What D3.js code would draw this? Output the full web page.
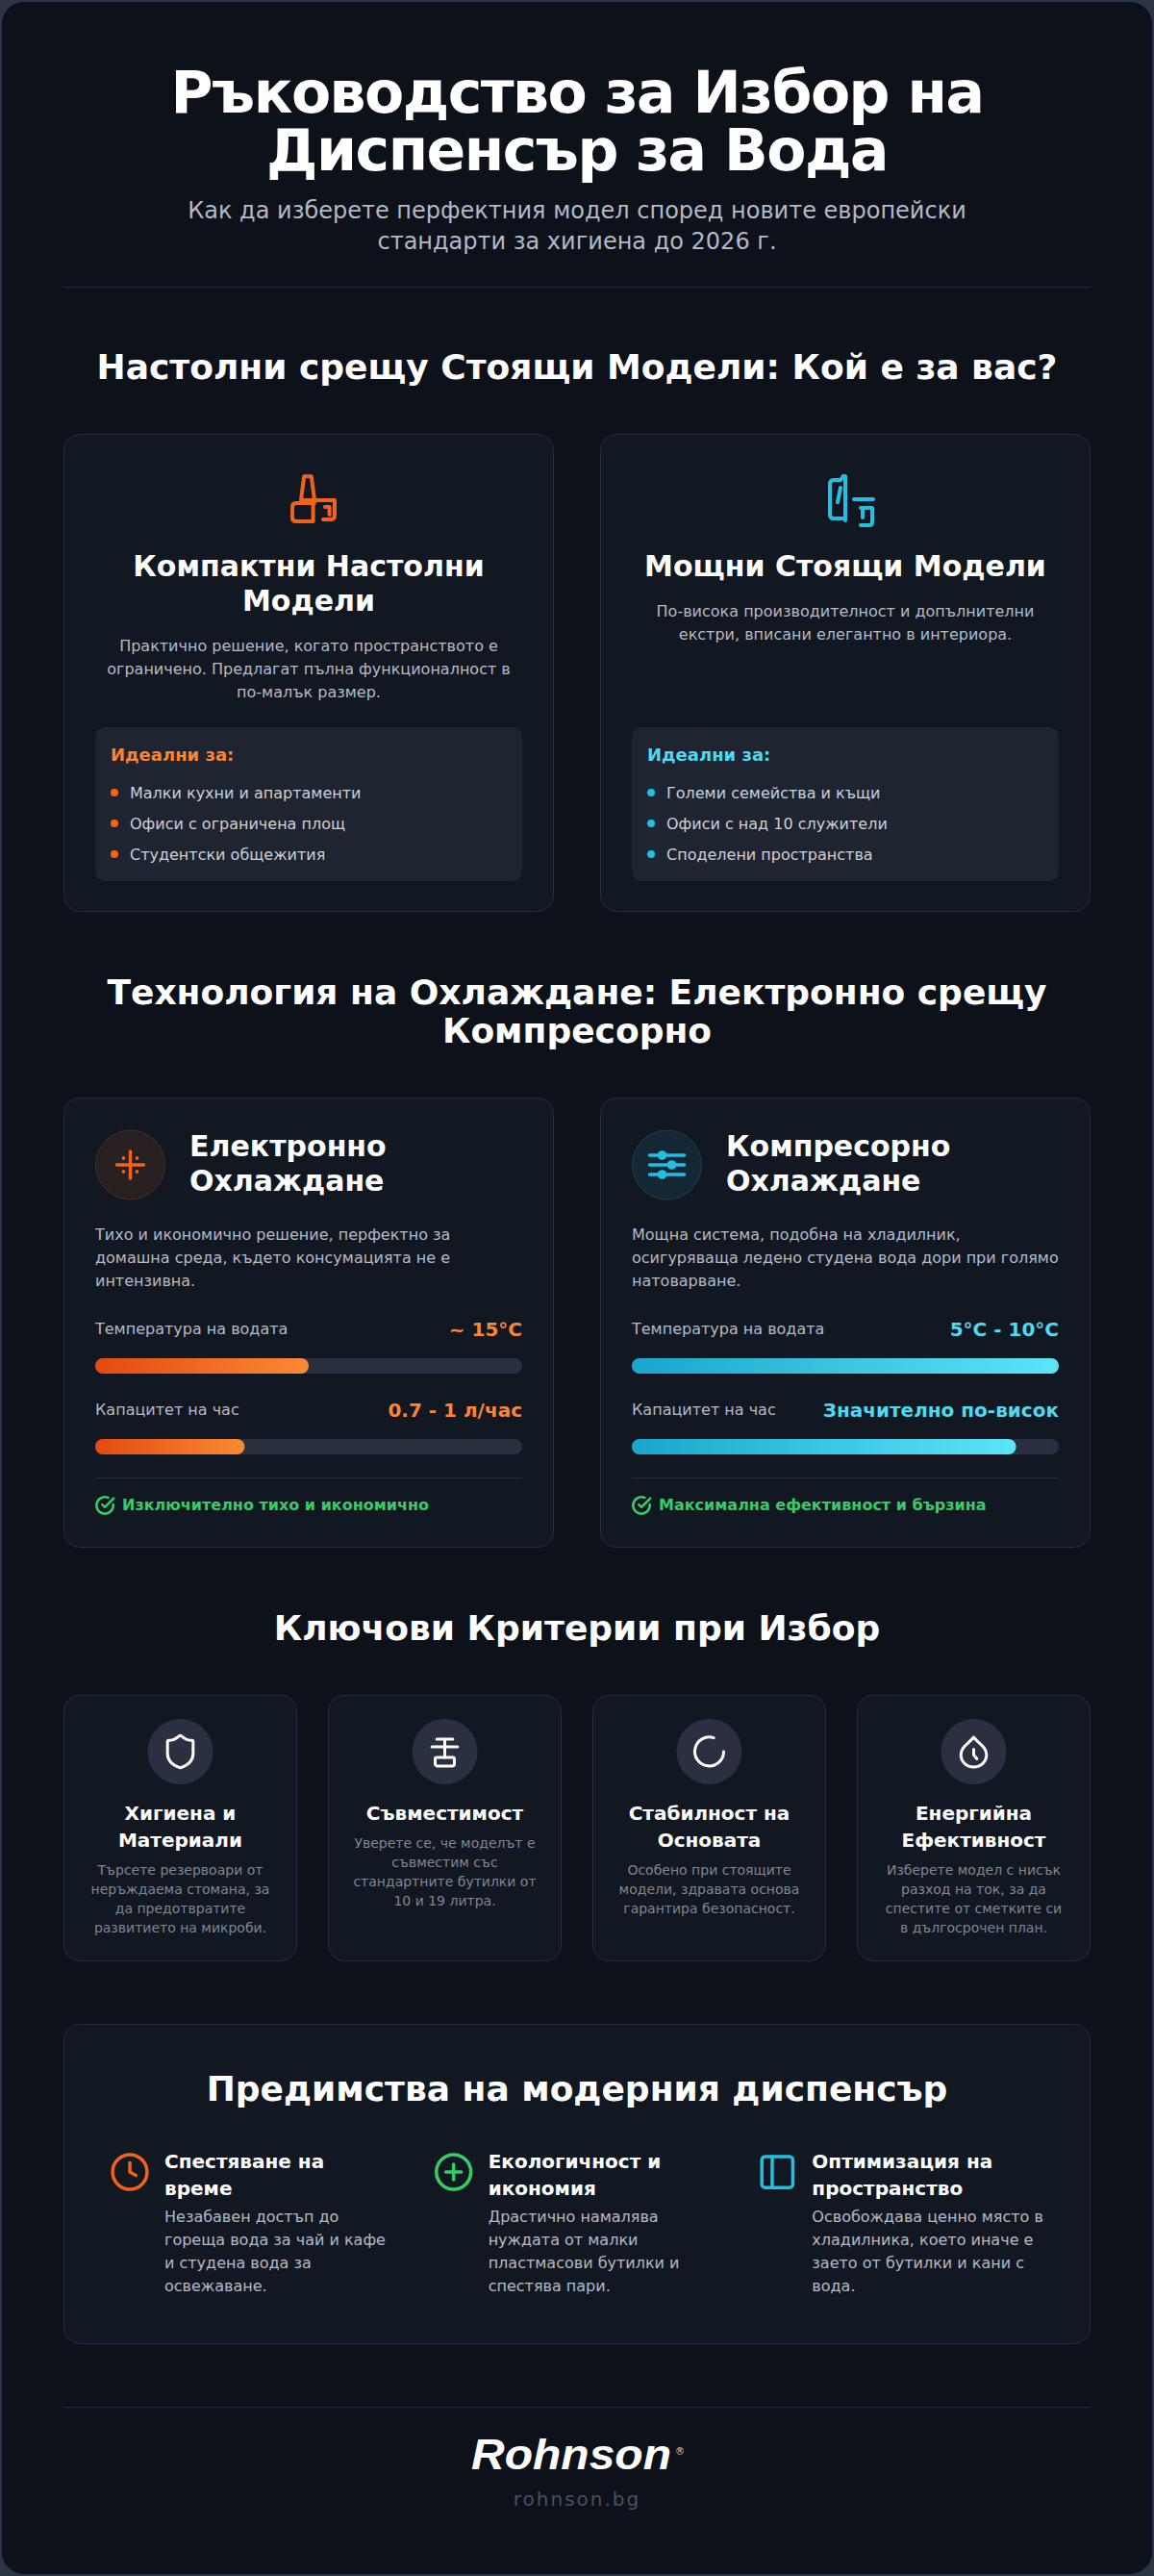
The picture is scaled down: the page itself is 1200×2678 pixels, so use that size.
<!DOCTYPE html>
<html>
<head>
<meta charset="utf-8">
<title>Ръководство за Избор на Диспенсър за Вода</title>
<script src="https://cdn.jsdelivr.net/npm/d3@7"></script>
<style>
	html, body { margin: 0; padding: 0; background: #2b3545; }
	svg { display: block; }
	text { font-family: "DejaVu Sans", sans-serif; }
</style>
</head>
<body>
<div id="chart"></div>
<script>
"use strict";

// Page texts
var titleLines = ["Ръководство за Избор на", "Диспенсър за Вода"];
var subtitleLines = ["Как да изберете перфектния модел според новите европейски", "стандарти за хигиена до 2026 г."];
var sectionOne = ["Настолни срещу Стоящи Модели: Кой е за вас?"];
var sectionTwo = ["Технология на Охлаждане: Електронно срещу", "Компресорно"];
var sectionThree = ["Ключови Критерии при Избор"];
var sectionFour = ["Предимства на модерния диспенсър"];

// Model cards
var modelTitles = [["Компактни Настолни", "Модели"], ["Мощни Стоящи Модели"]];
var modelTexts = [
	["Практично решение, когато пространството е", "ограничено. Предлагат пълна функционалност в", "по-малък размер."],
	["По-висока производителност и допълнителни", "екстри, вписани елегантно в интериора."]
];
var idealLabel = "Идеални за:";
var idealLists = [
	["Малки кухни и апартаменти", "Офиси с ограничена площ", "Студентски общежития"],
	["Големи семейства и къщи", "Офиси с над 10 служители", "Споделени пространства"]
];

// Cooling cards
var coolingTitles = [["Електронно", "Охлаждане"], ["Компресорно", "Охлаждане"]];
var coolingTexts = [
	["Тихо и икономично решение, перфектно за", "домашна среда, където консумацията не е", "интензивна."],
	["Мощна система, подобна на хладилник,", "осигуряваща ледено студена вода дори при голямо", "натоварване."]
];
var barLabels = ["Температура на водата", "Капацитет на час"];
var barValueTexts = [["~ 15°C", "0.7 - 1 л/час"], ["5°C - 10°C", "Значително по-висок"]];
var barValues = [[50, 35], [100, 90]];
var coolingNotes = ["Изключително тихо и икономично", "Максимална ефективност и бързина"];

// Criteria cards
var criteriaTitles = [["Хигиена и", "Материали"], ["Съвместимост"], ["Стабилност на", "Основата"], ["Енергийна", "Ефективност"]];
var criteriaTexts = [
	["Търсете резервоари от", "неръждаема стомана, за", "да предотвратите", "развитието на микроби."],
	["Уверете се, че моделът е", "съвместим със", "стандартните бутилки от", "10 и 19 литра."],
	["Особено при стоящите", "модели, здравата основа", "гарантира безопасност."],
	["Изберете модел с нисък", "разход на ток, за да", "спестите от сметките си", "в дългосрочен план."]
];

// Benefits
var benefitTitles = [["Спестяване на", "време"], ["Екологичност и", "икономия"], ["Оптимизация на", "пространство"]];
var benefitTexts = [
	["Незабавен достъп до", "гореща вода за чай и кафе", "и студена вода за", "освежаване."],
	["Драстично намалява", "нуждата от малки", "пластмасови бутилки и", "спестява пари."],
	["Освобождава ценно място в", "хладилника, което иначе е", "заето от бутилки и кани с", "вода."]
];

var colors = {
	page: "#0d111a",
	border: "#252d3b",
	card: "#121821",
	box: "#1e2430",
	track: "#2a3040",
	white: "#ffffff",
	sub: "#b4bac5",
	body: "#ccd0d7",
	muted: "#7f8692",
	orange: "#f0621d",
	orangeText: "#fb8435",
	cyan: "#22bfe0",
	cyanText: "#50d9f0",
	green: "#38cc66"
};

var W = 1200, H = 2678;

var svg = d3.select("#chart").append("svg")
	.attr("width", W)
	.attr("height", H)
	.attr("viewBox", "0 0 " + W + " " + H);

var defs = svg.append("defs");

function gradient(id, from, to) {
	var g = defs.append("linearGradient").attr("id", id);
	g.append("stop").attr("offset", "0%").attr("stop-color", from);
	g.append("stop").attr("offset", "100%").attr("stop-color", to);
}
gradient("barOrange", "#e34a10", "#fb8a35");
gradient("barCyan", "#19a6ca", "#5ce5f8");

function text(parent, x, y, str, size, weight, fill, anchor) {
	return parent.append("text")
		.attr("x", x)
		.attr("y", y)
		.attr("font-size", size)
		.attr("font-weight", weight)
		.attr("fill", fill)
		.attr("text-anchor", anchor || "start")
		.text(str);
}

function lines(parent, x, y, gap, arr, size, weight, fill, anchor) {
	arr.forEach(function(d, i) {
		text(parent, x, y + i * gap, d, size, weight, fill, anchor);
	});
}

function card(parent, x, y, w, h) {
	parent.append("rect")
		.attr("x", x + 0.5)
		.attr("y", y + 0.5)
		.attr("width", w - 1)
		.attr("height", h - 1)
		.attr("rx", 16)
		.attr("fill", colors.card)
		.attr("stroke", colors.border);
}

function divider(parent, x1, x2, y) {
	parent.append("line")
		.attr("x1", x1).attr("x2", x2)
		.attr("y1", y + 0.5).attr("y2", y + 0.5)
		.attr("stroke", colors.border);
}

// Stroked icon, paths in a 24 unit box
function icon(parent, cx, cy, size, stroke, sw, shapes) {
	var k = size / 24;
	var g = parent.append("g")
		.attr("transform", "translate(" + (cx - size / 2) + "," + (cy - size / 2) + ") scale(" + k + ")")
		.attr("fill", "none")
		.attr("stroke", stroke)
		.attr("stroke-width", sw / k)
		.attr("stroke-linecap", "round")
		.attr("stroke-linejoin", "round");
	shapes.forEach(function(s) {
		g.append("path").attr("d", s);
	});
	return g;
}

var circle24 = "M22 12a10 10 0 1 1-20 0a10 10 0 1 1 20 0";

// Frame
svg.append("rect")
	.attr("x", 1).attr("y", 1)
	.attr("width", W - 2).attr("height", H - 2)
	.attr("rx", 24)
	.attr("fill", colors.page)
	.attr("stroke", "#2b3545")
	.attr("stroke-width", 2);

// Header
titleLines.forEach(function(d, i) {
	text(svg, 600, 117 + i * 60, d, 60, 700, colors.white, "middle")
		.attr("letter-spacing", -1.5);
});
lines(svg, 600, 227, 32, subtitleLines, 24, 400, colors.sub, "middle");
divider(svg, 66, 1134, 298);

// Desk and floor models
lines(svg, 600, 394, 40, sectionOne, 36, 700, colors.white, "middle");

var colX = d3.scaleBand().domain([0, 1]).range([66, 1134]).paddingInner(48 / 510 / (1 + 48 / 510));

var modelIcons = [
	["M9.6 -0.4 H13.4 L15 12 H8 Z", "M15.5 12 H25.5 V20 Q25.5 22 23.5 22 H19.5", "M14 23 H5.5 Q3.5 23 3.5 21 V15.5 Q3.5 13.5 5.5 13.5 H15", "M14.3 13.5 V23", "M20.5 15.5 H22.8 V19.5"],
	["M9.5 1.5 H6 Q4 1.5 4 3.5 V19.5 Q4 21.5 6 21.5 H11", "M11 -0.5 H12 V22.5", "M11 -0.5 L9.5 1.5", "M9.5 5.5 L8 13", "M16.5 11.5 H26.5", "M20 16 H26 V23.5 Q26 25 24.5 25 H20", "M21 16.5 V21"]
];
var accent = [colors.orange, colors.cyan];
var accentText = [colors.orangeText, colors.cyanText];

modelTitles.forEach(function(t, i) {
	var x = colX(i), w = colX.bandwidth(), mid = x + w / 2, g = svg.append("g");
	card(g, x, 451, w, 497);
	icon(g, mid, 520, 48, accent[i], 4, modelIcons[i]);
	lines(g, mid, 599, 36, t, 30, 700, colors.white, "middle");
	lines(g, mid, t.length > 1 ? 677 : 641, 24, modelTexts[i], 16, 400, colors.sub, "middle");

	g.append("rect")
		.attr("x", x + 33).attr("y", 756)
		.attr("width", w - 66).attr("height", 160)
		.attr("rx", 10)
		.attr("fill", colors.box);
	text(g, x + 49, 791, idealLabel, 18, 700, accentText[i]);
	idealLists[i].forEach(function(d, j) {
		var y = 824 + j * 32;
		g.append("circle").attr("cx", x + 53).attr("cy", y).attr("r", 4).attr("fill", accent[i]);
		text(g, x + 69, y + 5.5, d, 16, 400, colors.body);
	});
});

// Cooling technology
lines(svg, 600, 1044, 40, sectionTwo, 36, 700, colors.white, "middle");

var barX = d3.scaleLinear().domain([0, 100]).range([0, 444]);
var barFill = ["url(#barOrange)", "url(#barCyan)"];
var iconTint = [["rgba(240,98,29,0.1)", "rgba(240,98,29,0.22)"], ["rgba(34,191,224,0.1)", "rgba(34,191,224,0.22)"]];

coolingTitles.forEach(function(t, i) {
	var x = colX(i), w = colX.bandwidth(), inner = x + 33, g = svg.append("g");
	card(g, x, 1141, w, 468);

	var cx = inner + 36.5, cy = 1211;
	g.append("circle").attr("cx", cx).attr("cy", cy).attr("r", 36)
		.attr("fill", iconTint[i][0]).attr("stroke", iconTint[i][1]);
	var ig = g.append("g").attr("transform", "translate(" + cx + "," + cy + ")");
	if (i === 0) {
		ig.append("path").attr("d", "M0 -14V14M-14 0H14")
			.attr("stroke", accent[0]).attr("stroke-width", 3.4).attr("stroke-linecap", "round");
		[[-7, -7], [7, -7], [-7, 7], [7, 7]].forEach(function(d) {
			ig.append("circle").attr("cx", d[0]).attr("cy", d[1]).attr("r", 1.9).attr("fill", accent[0]);
		});
	} else {
		[[-10, -5], [0, 5], [10, -5]].forEach(function(d) {
			ig.append("line").attr("x1", -18).attr("x2", 18).attr("y1", d[0]).attr("y2", d[0])
				.attr("stroke", accent[1]).attr("stroke-width", 3.4).attr("stroke-linecap", "round");
			ig.append("circle").attr("cx", d[1]).attr("cy", d[0]).attr("r", 4.8).attr("fill", accent[1]);
		});
	}

	lines(g, inner + 98, 1202, 36, t, 30, 700, colors.white);
	lines(g, inner, 1289, 24, coolingTexts[i], 16, 400, colors.sub);

	barLabels.forEach(function(label, j) {
		var y = 1387 + j * 84;
		text(g, inner, y, label, 16, 400, colors.sub);
		text(g, inner + 444, y + 2, barValueTexts[i][j], 20, 700, accentText[i], "end");
		g.append("rect")
			.attr("x", inner).attr("y", y + 25)
			.attr("width", barX(100)).attr("height", 16)
			.attr("rx", 8)
			.attr("fill", colors.track);
		g.append("rect")
			.attr("x", inner).attr("y", y + 25)
			.attr("width", barX(barValues[i][j])).attr("height", 16)
			.attr("rx", 8)
			.attr("fill", barFill[i]);
	});

	divider(g, inner, inner + 444, 1536);
	icon(g, inner + 10, 1565, 22, colors.green, 2.5, ["M21.5 11v1a9.5 9.5 0 1 1-5.6-8.7", "M22 4 L12 14 L9 11"]);
	text(g, inner + 28, 1570, coolingNotes[i], 16, 700, colors.green);
});

// Key criteria
lines(svg, 600, 1705, 40, sectionThree, 36, 700, colors.white, "middle");

var critX = d3.scaleBand().domain([0, 1, 2, 3]).range([66, 1134]).paddingInner(32 / 275);

var criteriaIcons = [
	["M20 13c0 5-3.5 7.5-7.66 8.95a1 1 0 0 1-.67 0C7.5 20.5 4 18 4 13V6a1 1 0 0 1 1-1c2 0 4.5-1.2 6.24-2.72a1.17 1.17 0 0 1 1.52 0C14.51 3.81 17 5 19 5a1 1 0 0 1 1 1z"],
	["M7 4.2 H17", "M12 4.2 V15.6", "M4 9 H20", "M7 15.6 H17 A1 1 0 0 1 18 16.6 V19.5 A1.5 1.5 0 0 1 16.5 21 H7.5 A1.5 1.5 0 0 1 6 19.5 V16.6 A1 1 0 0 1 7 15.6"],
	["M21 12a9 9 0 1 1-6.2-8.6"],
	["M12 3 C15 7 20 9 20 14 A8 7.6 0 0 1 4 14 C4 9 9 7 12 3 Z", "M12 10.5 V14 L14 16.5"]
];

criteriaTitles.forEach(function(t, i) {
	var x = critX(i), w = critX.bandwidth(), mid = x + w / 2, g = svg.append("g");
	card(g, x, 1762, w, 277);
	g.append("circle").attr("cx", mid).attr("cy", 1821).attr("r", 34).attr("fill", colors.track);
	icon(g, mid, 1821, 40, colors.white, 3, criteriaIcons[i]);
	lines(g, mid, 1892, 28, t, 20, 700, colors.white, "middle");
	lines(g, mid, 1892 + (t.length - 1) * 28 + 29, 20, criteriaTexts[i], 14, 400, colors.muted, "middle");
});

// Benefits
card(svg, 66, 2104, 1068, 333);
lines(svg, 600, 2184, 40, sectionFour, 36, 700, colors.white, "middle");

var benefitX = d3.scaleBand().domain([0, 1, 2]).range([171, 1181]);
var benefitColor = [colors.orange, colors.green, colors.cyan];
var benefitIcons = [
	[circle24, "M12 6.5 V12 L15.5 14"],
	[circle24, "M12 7.5 V16.5", "M7.5 12 H16.5"],
	["M5 3 H19 A2 2 0 0 1 21 5 V19 A2 2 0 0 1 19 21 H5 A2 2 0 0 1 3 19 V5 A2 2 0 0 1 5 3", "M9 3 V21"]
];

benefitTitles.forEach(function(t, i) {
	var x = benefitX(i), g = svg.append("g");
	icon(g, x - 36, 2258, 43, benefitColor[i], 3.5, benefitIcons[i]);
	lines(g, x, 2254, 28, t, 20, 700, colors.white);
	lines(g, x, 2310, 24, benefitTexts[i], 16, 400, colors.sub);
});

// Footer
divider(svg, 66, 1134, 2502);
text(svg, 490, 2567, "Rohnson", 45, 700, colors.white)
	.attr("font-style", "italic")
	.attr("textLength", 208)
	.attr("lengthAdjust", "spacingAndGlyphs")
	.style("font-family", "'Liberation Sans', sans-serif");
text(svg, 707, 2552, "®", 10, 400, "#d5d8dd", "middle");
text(svg, 600, 2605, "rohnson.bg", 20, 400, "#4a515e", "middle")
	.attr("letter-spacing", 2);
</script>
</body>
</html>
